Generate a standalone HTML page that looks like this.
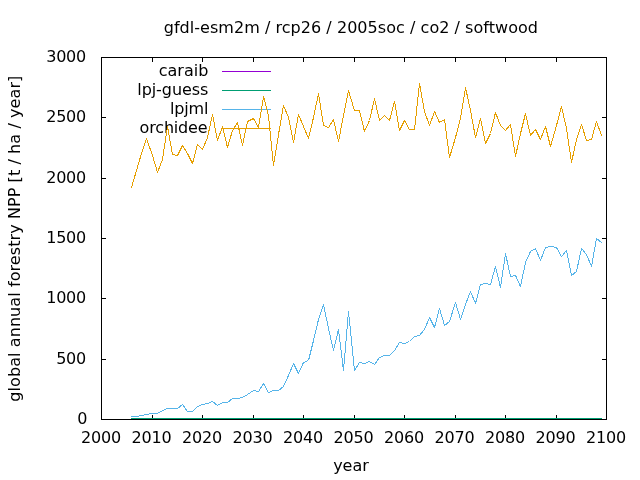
<!DOCTYPE html>
<html lang="en"><head><meta charset="utf-8"><title>gfdl-esm2m / rcp26 / 2005soc / co2 / softwood</title>
<style>html,body{margin:0;padding:0;background:#fff;overflow:hidden}svg{display:block}text{font-family:"DejaVu Sans","Liberation Sans",sans-serif;font-size:16px;fill:#000}.l{fill:none;stroke-width:1;shape-rendering:crispEdges}.d{stroke-linecap:square;stroke-linejoin:bevel}</style></head><body>
<svg width="640" height="480" viewBox="0 0 640 480">
<rect width="640" height="480" fill="#fff"/>
<text x="163.7" y="33" textLength="374.3" lengthAdjust="spacing">gfdl-esm2m / rcp26 / 2005soc / co2 / softwood</text>
<text transform="translate(20 401.7) rotate(-90)" textLength="326" lengthAdjust="spacing">global annual forestry NPP [t / ha / year]</text>
<text x="351" y="471" text-anchor="middle">year</text>
<text x="77.20" y="424.00" textLength="9.9" lengthAdjust="spacing">0</text>
<text x="56.25" y="364.00" textLength="29.9" lengthAdjust="spacing">500</text>
<text x="46.25" y="303.00" textLength="39.9" lengthAdjust="spacing">1000</text>
<text x="46.25" y="243.00" textLength="39.9" lengthAdjust="spacing">1500</text>
<text x="46.25" y="183.00" textLength="39.9" lengthAdjust="spacing">2000</text>
<text x="46.25" y="122.00" textLength="39.9" lengthAdjust="spacing">2500</text>
<text x="46.25" y="62.00" textLength="39.9" lengthAdjust="spacing">3000</text>
<text x="81.00" y="443" textLength="40.3" lengthAdjust="spacing">2000</text>
<text x="131.50" y="443" textLength="40.3" lengthAdjust="spacing">2010</text>
<text x="182.00" y="443" textLength="40.3" lengthAdjust="spacing">2020</text>
<text x="232.50" y="443" textLength="40.3" lengthAdjust="spacing">2030</text>
<text x="283.00" y="443" textLength="40.3" lengthAdjust="spacing">2040</text>
<text x="333.50" y="443" textLength="40.3" lengthAdjust="spacing">2050</text>
<text x="384.00" y="443" textLength="40.3" lengthAdjust="spacing">2060</text>
<text x="434.50" y="443" textLength="40.3" lengthAdjust="spacing">2070</text>
<text x="485.00" y="443" textLength="40.3" lengthAdjust="spacing">2080</text>
<text x="535.50" y="443" textLength="40.3" lengthAdjust="spacing">2090</text>
<text x="586.00" y="443" textLength="40.3" lengthAdjust="spacing">2100</text>
<text x="208.35" y="76.00" text-anchor="end">caraib</text>
<text x="208.35" y="95.00" text-anchor="end" textLength="71.1" lengthAdjust="spacing">lpj-guess</text>
<text x="208.35" y="114.00" text-anchor="end" textLength="38.3" lengthAdjust="spacing">lpjml</text>
<text x="207.6" y="133.00" text-anchor="end" textLength="68" lengthAdjust="spacing">orchidee</text>
<path class="l" stroke="#000" d="M102 359.5 h4 M606 359.5 h-4 M102 298.5 h4 M606 298.5 h-4 M102 238.5 h4 M606 238.5 h-4 M102 178.5 h4 M606 178.5 h-4 M102 117.5 h4 M606 117.5 h-4 M152.5 419 v-4 M152.5 58 v4 M202.5 419 v-4 M202.5 58 v4 M253.5 419 v-4 M253.5 58 v4 M303.5 419 v-4 M303.5 58 v4 M354.5 419 v-4 M354.5 58 v4 M404.5 419 v-4 M404.5 58 v4 M455.5 419 v-4 M455.5 58 v4 M505.5 419 v-4 M505.5 58 v4 M556.5 419 v-4 M556.5 58 v4"/>
<line class="l" stroke="#9400d3" x1="222" y1="71.5" x2="271" y2="71.5"/>
<polyline class="l" stroke="#9400d3" points="131,418.5 602,418.5"/>
<line class="l" stroke="#009e73" x1="222" y1="90.5" x2="271" y2="90.5"/>
<polyline class="l" stroke="#009e73" points="131,418.5 602,418.5"/>
<line class="l" stroke="#56b4e9" x1="222" y1="109.5" x2="271" y2="109.5"/>
<polyline class="l d" stroke="#56b4e9" points="131.5,416.5 136.5,416.5 141.5,415.5 146.5,414.5 152.5,413.5 157.5,413.5 162.5,410.5 167.5,408.5 172.5,408.5 177.5,408.5 182.5,404.5 187.5,411.5 192.5,411.5 197.5,406.5 202.5,404.5 207.5,403.5 212.5,401.5 217.5,405.5 222.5,402.5 227.5,402.5 232.5,398.5 237.5,398.5 242.5,397.5 247.5,394.5 253.5,390.5 258.5,391.5 263.5,383.5 268.5,392.5 273.5,390.5 278.5,390.5 283.5,386.5 288.5,375.5 293.5,363.5 298.5,373.5 303.5,362.5 308.5,360.5 313.5,340.5 318.5,319.5 323.5,304.5 328.5,328.5 333.5,350.5 338.5,329.5 343.5,370.5 348.5,311.5 354.5,370.5 359.5,362.5 364.5,363.5 369.5,361.5 374.5,364.5 379.5,357.5 384.5,355.5 389.5,355.5 394.5,350.5 399.5,342.5 404.5,343.5 409.5,341.5 414.5,336.5 419.5,335.5 424.5,329.5 429.5,317.5 434.5,327.5 439.5,308.5 444.5,325.5 449.5,321.5 455.5,302.5 460.5,319.5 465.5,304.5 470.5,291.5 475.5,303.5 480.5,284.5 485.5,283.5 490.5,284.5 495.5,266.5 500.5,287.5 505.5,253.5 510.5,276.5 515.5,275.5 520.5,286.5 525.5,262.5 530.5,251.5 535.5,248.5 540.5,260.5 545.5,247.5 550.5,246.5 556.5,247.5 561.5,256.5 566.5,250.5 571.5,275.5 576.5,271.5 581.5,248.5 586.5,254.5 591.5,266.5 596.5,238.5 601.5,242.5"/>
<line class="l" stroke="#e69f00" x1="222" y1="128.5" x2="271" y2="128.5"/>
<polyline class="l d" stroke="#e69f00" points="131.5,187.5 136.5,170.5 141.5,153.5 146.5,138.5 152.5,155.5 157.5,172.5 162.5,159.5 167.5,126.5 172.5,154.5 177.5,155.5 182.5,145.5 187.5,153.5 192.5,163.5 197.5,144.5 202.5,149.5 207.5,137.5 212.5,114.5 217.5,140.5 222.5,126.5 227.5,147.5 232.5,130.5 237.5,122.5 242.5,145.5 247.5,121.5 253.5,118.5 258.5,127.5 263.5,96.5 268.5,115.5 273.5,165.5 278.5,134.5 283.5,105.5 288.5,117.5 293.5,142.5 298.5,114.5 303.5,126.5 308.5,138.5 313.5,117.5 318.5,93.5 323.5,125.5 328.5,127.5 333.5,119.5 338.5,141.5 343.5,115.5 348.5,90.5 354.5,110.5 359.5,110.5 364.5,131.5 369.5,120.5 374.5,98.5 379.5,120.5 384.5,115.5 389.5,120.5 394.5,101.5 399.5,130.5 404.5,120.5 409.5,129.5 414.5,129.5 419.5,83.5 424.5,111.5 429.5,125.5 434.5,111.5 439.5,122.5 444.5,119.5 449.5,157.5 455.5,137.5 460.5,118.5 465.5,87.5 470.5,110.5 475.5,137.5 480.5,118.5 485.5,143.5 490.5,133.5 495.5,112.5 500.5,125.5 505.5,130.5 510.5,124.5 515.5,156.5 520.5,133.5 525.5,113.5 530.5,135.5 535.5,129.5 540.5,139.5 545.5,126.5 550.5,146.5 556.5,125.5 561.5,106.5 566.5,128.5 571.5,162.5 576.5,139.5 581.5,124.5 586.5,140.5 591.5,139.5 596.5,121.5 601.5,135.5"/>
<rect class="l" stroke="#000" x="101.5" y="57.5" width="505" height="362"/>
</svg></body></html>
